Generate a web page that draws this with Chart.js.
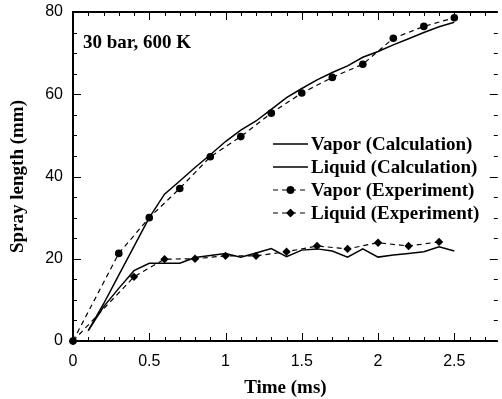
<!DOCTYPE html>
<html>
<head>
<meta charset="utf-8">
<script src="https://cdn.jsdelivr.net/npm/chart.js@4.4.0/dist/chart.umd.min.js"></script>
<style>
  body { margin: 0; background: #fff; }
  canvas { display: block; }
</style>
</head>
<body>
<canvas id="sprayChart" width="502" height="399"></canvas>
<script>
// |------------------------------- data -------------------------------|

var calcTime = [0.1, 0.2, 0.3, 0.4, 0.5, 0.6, 0.7, 0.8, 0.9, 1.0, 1.1, 1.2, 1.3,
                1.4, 1.5, 1.6, 1.7, 1.8, 1.9, 2.0, 2.1, 2.2, 2.3, 2.4, 2.5];
var vaporCalc = [2.5, 9.0, 16.0, 23.0, 30.0, 35.7, 38.9, 42.2, 45.3, 48.5, 51.3, 53.5, 56.3,
                 59.2, 61.4, 63.5, 65.3, 66.9, 69.0, 70.4, 72.0, 73.5, 75.0, 76.4, 77.5];
var liquidCalc = [2.5, 8.3, 12.8, 17.1, 18.9, 18.9, 18.9, 20.3, 20.8, 21.3, 20.4, 21.4, 22.5,
                  20.5, 22.1, 22.4, 21.9, 20.4, 22.4, 20.4, 20.9, 21.3, 21.7, 22.9, 21.9];

var vaporExpTime = [0, 0.3, 0.5, 0.7, 0.9, 1.1, 1.3, 1.5, 1.7, 1.9, 2.1, 2.3, 2.5];
var vaporExp = [0, 21.3, 30.0, 37.1, 44.8, 49.7, 55.4, 60.3, 64.1, 67.3, 73.6, 76.5, 78.6];

var liquidExpTime = [0, 0.4, 0.6, 0.8, 1.0, 1.2, 1.4, 1.6, 1.8, 2.0, 2.2, 2.4];
var liquidExp = [0, 15.6, 19.9, 20.0, 20.7, 20.7, 21.7, 23.1, 22.4, 23.9, 23.1, 24.1];

var seriesNames = ['Vapor (Calculation)', 'Liquid (Calculation)', 'Vapor (Experiment)', 'Liquid (Experiment)'];
var caseLabel = '30 bar, 600 K';

var xTicksMajor = [0, 0.5, 1, 1.5, 2, 2.5];
var yTicksMajor = [0, 20, 40, 60, 80];

function toPoints(xs, ys) {
  return xs.map(function (x, i) { return { x: x, y: ys[i] }; });
}

var serifBold = { family: '"Liberation Serif", "Times New Roman", serif', size: 19, weight: 'bold' };

// |------------------------------- frame, inner ticks, label, legend -------------------------------|

var framePlugin = {
  id: 'frame',
  afterDraw: function (chart) {
    var ctx = chart.ctx, a = chart.chartArea;
    var xs = chart.scales.x, ys = chart.scales.y;
    ctx.save();
    ctx.strokeStyle = '#000';

    // minor / major ticks pointing inward on all four sides
    ctx.lineWidth = 1;
    ctx.beginPath();
    for (var t = 0; t <= 2.8001; t += 0.1) {
      var v = Math.round(t * 10) / 10;
      var px = Math.round(xs.getPixelForValue(v)) + 0.5;
      if (px > a.right) break;
      var len = (Math.round(v * 10) % 5 === 0) ? 8 : 4;
      ctx.moveTo(px, a.bottom); ctx.lineTo(px, a.bottom - len);
      ctx.moveTo(px, a.top); ctx.lineTo(px, a.top + len);
    }
    for (var s = 0; s <= 80; s += 5) {
      var py = Math.round(ys.getPixelForValue(s)) + 0.5;
      var l2 = (s % 20 === 0) ? 8 : 4;
      ctx.moveTo(a.left, py); ctx.lineTo(a.left + l2, py);
      ctx.moveTo(a.right, py); ctx.lineTo(a.right - l2, py);
    }
    ctx.stroke();

    // axis frame
    ctx.lineWidth = 2;
    ctx.beginPath();
    ctx.moveTo(a.right, a.top); ctx.lineTo(a.left, a.top);
    ctx.lineTo(a.left, a.bottom); ctx.lineTo(a.right, a.bottom);
    ctx.stroke();

    // case label
    ctx.fillStyle = '#000';
    ctx.font = 'bold 19px "Liberation Serif", "Times New Roman", serif';
    ctx.textBaseline = 'middle';
    ctx.textAlign = 'left';
    ctx.fillText(caseLabel, a.left + 10, a.top + 31);

    // legend
    var rowY = [144, 167, 190, 213];
    var x0 = 273, x1 = 308;
    chart.data.datasets.forEach(function (ds, i) {
      var y = rowY[i];
      ctx.lineWidth = ds.borderWidth;
      ctx.setLineDash(ds.borderDash || []);
      ctx.beginPath();
      ctx.moveTo(x0, y); ctx.lineTo(x1, y);
      ctx.stroke();
      ctx.setLineDash([]);
      if (ds.pointRadius > 0) {
        Chart.helpers.drawPoint(ctx, {
          pointStyle: ds.pointStyle, radius: ds.pointRadius, borderWidth: 0, rotation: 0
        }, (x0 + x1) / 2, y);
        ctx.fill();
      }
      ctx.fillText(ds.label, 311, y + 1);
    });
    ctx.restore();
  }
};

// |------------------------------- Chart.js - Line Chart -------------------------------|

var ctx = document.getElementById('sprayChart').getContext('2d');
var sprayChart = new Chart(ctx, {
  type: 'line',
  data: {
    datasets: [{
      label: seriesNames[0],
      data: toPoints(calcTime, vaporCalc),
      borderColor: '#000',
      borderWidth: 1.5,
      pointRadius: 0,
      clip: false
    }, {
      label: seriesNames[1],
      data: toPoints(calcTime, liquidCalc),
      borderColor: '#000',
      borderWidth: 1.5,
      pointRadius: 0,
      clip: false
    }, {
      label: seriesNames[2],
      data: toPoints(vaporExpTime, vaporExp),
      borderColor: '#000',
      backgroundColor: '#000',
      borderWidth: 1.2,
      borderDash: [5, 4],
      pointStyle: 'circle',
      pointRadius: 3.8,
      pointBorderWidth: 0,
      clip: false
    }, {
      label: seriesNames[3],
      data: toPoints(liquidExpTime, liquidExp),
      borderColor: '#000',
      backgroundColor: '#000',
      borderWidth: 1.2,
      borderDash: [5, 4],
      pointStyle: 'rectRot',
      pointRadius: 4.2,
      pointBorderWidth: 0,
      clip: false
    }]
  },
  options: {
    responsive: false,
    animation: false,
    events: [],
    layout: { padding: { top: 12, right: 0, left: 0, bottom: 0 } },
    plugins: {
      legend: { display: false },
      tooltip: { enabled: false }
    },
    scales: {
      x: {
        type: 'linear',
        min: 0,
        max: 2.785,
        afterFit: function (scale) {
          scale.height = 58;
          scale.paddingLeft = 0;
          scale.paddingRight = 0;
        },
        afterBuildTicks: function (scale) {
          scale.ticks = xTicksMajor.map(function (v) { return { value: v }; });
        },
        grid: { display: false, drawTicks: false },
        border: { display: false },
        ticks: {
          color: '#000',
          padding: 11,
          maxRotation: 0,
          font: { family: '"Liberation Sans", Arial, sans-serif', size: 16 },
          callback: function (v) { return String(v); }
        },
        title: {
          display: true,
          text: 'Time (ms)',
          color: '#000',
          font: serifBold,
          padding: { top: 3, bottom: 0 }
        }
      },
      y: {
        min: 0,
        max: 80,
        afterFit: function (scale) {
          scale.width = 73;
          scale.paddingTop = 0;
          scale.paddingBottom = 0;
        },
        afterBuildTicks: function (scale) {
          scale.ticks = yTicksMajor.map(function (v) { return { value: v }; });
        },
        grid: { display: false, drawTicks: false },
        border: { display: false },
        ticks: {
          color: '#000',
          padding: 10,
          font: { family: '"Liberation Sans", Arial, sans-serif', size: 16 }
        },
        title: {
          display: true,
          text: 'Spray length (mm)',
          color: '#000',
          font: serifBold,
          padding: { top: 7, bottom: 0 }
        }
      }
    }
  },
  plugins: [framePlugin]
});
</script>
</body>
</html>
